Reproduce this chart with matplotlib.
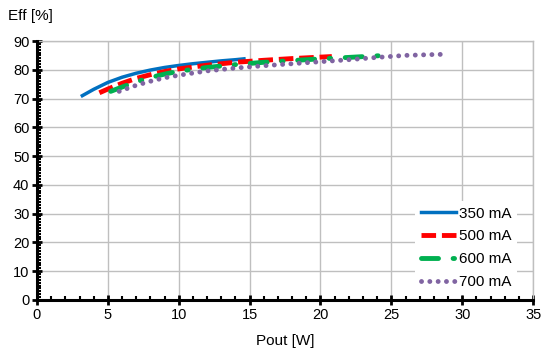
import numpy as np
import matplotlib
matplotlib.use('Agg')
import matplotlib.pyplot as plt
from matplotlib.ticker import MultipleLocator

plt.rcParams['font.family'] = ['Liberation Sans', 'DejaVu Sans']
plt.rcParams['font.size'] = 10

# efficiency curves
p350 = [3.2, 4.0, 5.0, 6.0, 7.0, 8.0, 9.0, 10.0, 11.0, 12.0, 13.0, 14.0, 14.6]
e350 = [71.0, 73.2, 75.6, 77.4, 78.8, 79.9, 80.8, 81.5, 82.1, 82.6, 83.1, 83.5, 83.8]
p500 = [4.4, 5.0, 6.0, 7.0, 8.0, 9.0, 10.0, 12.0, 14.0, 16.0, 18.0, 20.0, 20.8]
e500 = [72.0, 73.3, 75.3, 77.0, 78.3, 79.4, 80.3, 81.6, 82.6, 83.3, 83.9, 84.4, 84.6]
p600 = [5.2, 6.0, 7.0, 8.0, 9.0, 10.0, 12.0, 14.0, 16.0, 18.0, 20.0, 22.0, 24.2]
e600 = [72.5, 74.0, 75.8, 77.3, 78.5, 79.5, 80.8, 81.8, 82.6, 83.2, 83.8, 84.3, 84.9]
p700 = [5.8, 7.0, 8.0, 9.0, 10.0, 12.0, 14.0, 16.0, 18.0, 20.0, 22.0, 24.0, 26.0, 28.0, 29.0]
e700 = [72.5, 74.6, 76.0, 77.2, 78.1, 79.6, 80.6, 81.4, 82.1, 82.8, 83.5, 84.3, 85.0, 85.3, 85.4]

fig = plt.figure(figsize=(5.44, 3.52), dpi=100)
ax = fig.add_axes([0.068, 0.148, 0.912, 0.7355])

ax.plot(p350, e350, color='#0070C0', lw=2.5, label='350 mA', zorder=3)
ax.plot(p500, e500, color='#FF0000', lw=3.5, dashes=(3, 1.2), label='500 mA', zorder=3)
ax.plot(p600, e600, color='#00B050', lw=3.5, dashes=(3.5, 3, 0.3, 3),
        dash_capstyle='round', label='600 mA', zorder=3)
ax.plot(p700, e700, color='#8064A2', lw=3.5, dashes=(0.01, 1.7),
        dash_capstyle='round', label='700 mA', zorder=3)

ax.set_xlim(0, 35)
ax.set_ylim(0, 90)
ax.xaxis.set_major_locator(MultipleLocator(5))
ax.yaxis.set_major_locator(MultipleLocator(10))
ax.xaxis.set_minor_locator(MultipleLocator(1))
ax.yaxis.set_minor_locator(MultipleLocator(1))
ax.grid(True, which='major', color='#BFBFBF', lw=1)
ax.set_axisbelow(True)

for s in ['top', 'right']:
    ax.spines[s].set_color('#BFBFBF')
    ax.spines[s].set_linewidth(1)
for s in ['left', 'bottom']:
    ax.spines[s].set_color('black')
    ax.spines[s].set_linewidth(2.2)
    ax.spines[s].set_zorder(4)

ax.tick_params(which='major', direction='inout', length=7, width=2, color='black', pad=2)
ax.tick_params(which='minor', direction='in', length=3, width=1.5, color='black')
ax.tick_params(top=False, right=False, which='both')
ax.tick_params(axis='both', which='major', labelsize=10.5)

ax.set_xlabel('Pout [W]', fontsize=11, labelpad=9)
fig.text(0.015, 0.955, 'Eff [%]', fontsize=11, va='center', ha='left')

leg = ax.legend(loc='lower right', bbox_to_anchor=(0.977, 0.0), frameon=True,
                handlelength=2.3, handletextpad=0.15, labelspacing=0.58, fontsize=11,
                borderaxespad=0.3)
leg.get_frame().set_edgecolor('none')
leg.get_frame().set_facecolor('white')
leg.get_frame().set_alpha(1)

fig.savefig('out.png', dpi=100)
